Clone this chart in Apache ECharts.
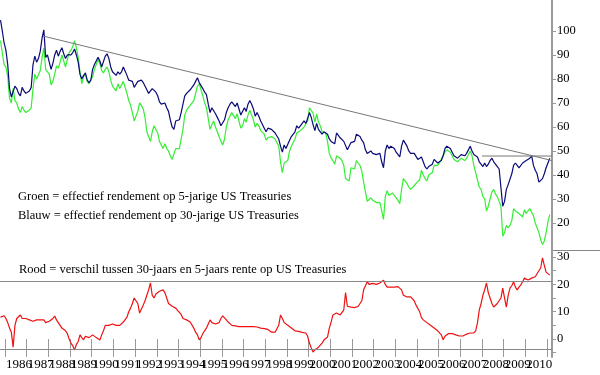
<!DOCTYPE html>
<html>
<head>
<meta charset="utf-8">
<script src="https://cdn.jsdelivr.net/npm/echarts@6.0.0/dist/echarts.min.js"></script>
<style>html,body{margin:0;padding:0;background:#fff;}#chart{width:600px;height:375px;}</style>
</head>
<body>
<div id="chart"></div>
<script>
// Monthly series, first point Oct 1985, last point Feb 2011 (values = yield x 10)
const startYear = 1985, startMonth = 10;
const blue30y = [
 104.5,100,95,
 92,86,76,72.5,73,77,76,74,73,76.5,75,74,
 74,75,76.5,86,89.5,87,88.5,91.5,97,100.5,89,90,
 87,84,86.5,90,92,89.5,91.5,93,90.5,88.5,90,90.5,
 90,91,92.5,90,87,82,80,81.5,82.5,79.5,78.5,79.5,
 84,86,86.5,89,87.5,85,85.5,89.5,90.5,88.5,85,83,
 83.5,81.5,83,82,83,85,84.5,81.5,79.5,80,79,76.5,
 77,79,79.8,79.5,78.5,78,75.5,74,74,76,76.5,74.5,
 73,70.5,69.5,69,70,68,66.5,63,60,59,62.5,62.5,
 63,66,69.5,73,74,74.5,75.5,75,77.5,79,80.5,78.5,
 78.5,76,74.5,73.5,69.5,66,68,68.5,65.5,64,62.5,60.5,
 60.5,63,66,68,69.5,70.5,70,68.5,70,67.5,65,65.5,
 68,66.5,69.5,71,69.5,67.5,64.5,66,64.5,62.5,61,59.5,
 58,59.5,59.5,59,59.5,57.5,57,55,52,49.5,52.5,51,
 51.5,54.5,56,55.5,58,60.5,59.5,60.5,60.5,62.5,61.5,63.5,
 66,64,61,58.5,61.5,59,58,57,58,58,57,55,
 54,53.5,53,57.5,57,55.5,55,54,54.5,50.5,50,53.5,
 54,54,57,56.5,56,54.5,53.5,50.5,49,49.5,50,49,
 49.5,48.5,48.5,49,45.5,43,50,52.5,51,52,51.5,51,
 49.5,49,47.5,52,54.5,54,52,50,49,48.5,49,48.5,
 46.5,46,47.5,45.5,43.5,42.5,43.5,44,44.5,46.5,46.5,45,
 45.5,46,48,51,52,51.5,51,49.5,48,48.5,47,47,
 48.5,48,48,49,49.5,52,50,48.5,48,47.5,45.5,45.5,
 43.5,45,43.5,44.5,46,47,45.5,45,43.5,42.5,42,27,
 29,34,36,36.5,40.5,44,45,44,43,43.5,45,45.5,
 46,46.5,47,48,44,42,40.5,37,37.5,38.5,40.5,43,
 45,47
];
const green5y = [
 96,91,86,
 85,81,72,70,76,71,70,67.5,66,68.5,67,66,
 66,67,68,76,82,80,80,83.5,89,93,84,84.5,
 82,77.5,79,82,85.5,84.5,87,90,87.5,85,88,91,
 92,93.5,96,93,89,83,78,81,82,79,78,77.5,
 81,84,86,88,86.5,83.5,82.5,84,85,83,79.5,77,
 76,75,78,76,76.5,79,78.5,74,71,69,66,62.5,
 63,66.5,70,69,67.5,64,58,56,54,58,60.5,61,
 57.5,54,52.5,51,53,51,50,48,46.5,47,51,51.5,
 51,55,59,65,67,66.5,69,68.5,71,74,77,78,
 77.5,73,70,68,63.5,59,61,62.5,60,58,56,54,
 52.5,55,60,63,64.5,66,65.5,63.5,65.5,62.5,59.5,60.5,
 63.5,62,65,67,65,63,60,61.5,60.5,58.5,58,57,
 54.5,55.5,56,56,56,55,54.5,52,45.5,41,45,45,
 46,50,52,52,55,57.5,57,58.5,58.5,60,60,62.5,
 68,68,65.8,62,65.5,62,60.5,58,58,57.5,54,49,
 47,46,44.5,48,48.5,47,46,44,38.5,39,37.5,43,
 43,42.5,46,45,44,41.5,37,33,29,28.5,30.5,29.5,
 29.5,28.5,28,28.5,25,21.5,31,33.5,31.5,32,32.5,32,
 30.5,29.5,28,34,38.5,39,36.5,35,34,34,35.5,36.5,
 37,38,42,40,38.5,37.5,40,40.5,41,44,44.5,44,
 44,46.5,47,49.5,50.5,50,49.5,48,46.5,47,45.5,45.5,
 47,46.5,46,47,47.5,50,48,44,41,40.5,35,34,
 31,30,25,27,30,33,34,32,31,29,27,14.5,
 16,19,18,19,21,26,25,25.5,24,23.5,22.5,25.5,
 24,24.5,26,24.5,23,20,18,16,13,11,12.5,16,
 20.5,23.5
];
const redSpread = [
 8,8.5,8.5,
 7.5,6,4,2.5,-3,5,7.5,8,8.8,7.5,8,7.5,
 7.5,7,7,6.5,6,7,7.5,7,7.5,7,6,6.5,
 6.5,7,7.5,8.4,7,6,5,4,3.5,3,2,0,
 -1.5,-2.5,-4,-2,-1,1.5,0.5,-0.3,1,1,0.5,0.7,
 1.5,1,0.5,0.5,-0.4,1.5,3,5,5.2,5,5,5.5,
 5.5,5,5.2,5,5.5,6.2,6.5,8,10,11.3,13,15,
 14,13,9.5,11,12.4,14,16,18,20.5,16,15,16.5,
 17,17.5,18,18,17,15,13,12.4,12,11.5,11.3,10.5,
 10,9,7.5,7,7,6.5,6.2,5.5,4,2.5,1.5,-0.3,
 0.5,2,2.6,4,5.5,7,6,6,5.5,5,6,7.5,
 8.5,8.8,7,6.2,5.5,5,5,4.8,4.5,4.5,5,4.5,
 4.5,4.5,4.5,4.5,4.4,4.5,4.3,4.4,4.2,4,4,3.8,
 3.5,3.5,3,2.5,1.8,2.5,3,5,8.8,7.5,6,5.5,
 5,4.5,4,3.3,3,3,2.8,2.6,2.4,2.3,2.2,1,
 -1.5,-3.3,-4.8,-4,-3.3,-3,-2.8,-1.5,-0.4,0,0.7,4,
 6.2,8.8,9,9.5,9,8.8,9.5,10.6,17,12,11.5,11.7,
 12.4,11.5,11.2,12,12.4,14,18,19.5,21,20,19.7,20.4,
 20.4,20,19.8,20.5,21,21.5,20,19,18.8,19,18.6,19,
 19,19.2,19.4,18,16,15.5,15.4,15.5,15.4,15,14,12.4,
 12.4,10,7.8,7,6.5,6,5.5,5,4.4,4,3.5,3,
 2.5,1.5,-0.3,1,1.5,2,2.2,2,1.8,1.5,1.2,1.1,
 1.2,1.1,1.5,1.8,2,2.2,2,2.2,3,5.9,10.6,13,
 16,18,20.5,17,15,13,11.7,12,13,13.5,15,18.6,
 15,11.7,16,18.6,19.5,21,19,18,19,19.8,21,22.3,
 21.6,21.6,22,22.3,22.5,22.8,23.4,25,26,29.7,27,24.5,
 25,23.4
];
const trendLine = [[1987.75, 97.9], [2011.23, 46.0]];
const flatLine = [[2008.0, 47.9], [2011.23, 47.9]];
const spreadRefLines = [21.2, -3.7];
const yearTicks = [];
for (let y = 1986; y <= 2011; y++) yearTicks.push(y);
const yearLabelsEven = yearTicks.filter(y => y <= 2010 && y % 2 === 0);
const yearLabelsOdd = yearTicks.filter(y => y <= 2010 && y % 2 === 1);
const topLabels = [20, 30, 40, 50, 60, 70, 80, 90, 100];
const bottomLabels = [0, 10, 20, 30];
const bottomTicks = [-5, 0, 5, 10, 15, 20, 25, 30];

// decimal-year position for each monthly sample
const xs = blue30y.map((_, i) => {
  const m = startMonth - 1 + i;
  return startYear + Math.floor(m / 12) + ((m % 12) + 0.5) / 12;
});
const pair = arr => arr.map((v, i) => [xs[i], v]);

const FONT = 'Liberation Serif';
const AX = '#9a9a9a';
const xMin = 1985.769, xMax = 2011.23;

const yearAxis = (labels, withTicks) => ({
  gridIndex: 1, type: 'value', min: xMin, max: xMax, position: 'bottom', offset: 0,
  axisLine: {show: false}, splitLine: {show: false},
  axisTick: {show: withTicks, customValues: yearTicks, length: 18, lineStyle: {color: AX, width: 1}},
  axisLabel: {customValues: labels, align: 'left', margin: 1, padding: [0,0,0,1],
    showMinLabel: true, showMaxLabel: true, hideOverlap: false,
    fontFamily: FONT, fontSize: 13, color: '#000', formatter: v => String(v)}
});

const chart = echarts.init(document.getElementById('chart'));
chart.setOption({
  animation: false,
  backgroundColor: '#fff',
  grid: [
    {left: 0, top: 0, width: 552, height: 250},
    {left: 0, top: 250, width: 552, height: 107}
  ],
  xAxis: [
    {gridIndex: 0, type: 'value', min: xMin, max: xMax, show: false},
    yearAxis(yearLabelsEven, true),
    yearAxis(yearLabelsOdd, false)
  ],
  yAxis: [
    {gridIndex: 0, type: 'value', position: 'right', min: 8.75, max: 112.9,
     splitLine: {show: false},
     axisLine: {show: true, lineStyle: {color: AX, width: 2}},
     axisTick: {show: true, customValues: topLabels, length: 4, lineStyle: {color: AX}},
     axisLabel: {customValues: topLabels, margin: 5, fontFamily: FONT, fontSize: 12.5, color: '#000'}},
    {gridIndex: 1, type: 'value', position: 'right', min: -6.6, max: 32.6,
     splitLine: {show: false},
     axisLine: {show: true, lineStyle: {color: AX, width: 2}},
     axisTick: {show: true, customValues: bottomTicks, length: 4, lineStyle: {color: AX}},
     axisLabel: {customValues: bottomLabels, margin: 5, fontFamily: FONT, fontSize: 12.5, color: '#000'}}
  ],
  series: [
    {type: 'line', xAxisIndex: 0, yAxisIndex: 0, data: pair(green5y), showSymbol: false,
     lineStyle: {color: '#33ee33', width: 1.2}},
    {type: 'line', xAxisIndex: 0, yAxisIndex: 0, data: pair(blue30y), showSymbol: false,
     lineStyle: {color: '#0a0a78', width: 1.2}},
    {type: 'line', xAxisIndex: 0, yAxisIndex: 0, data: trendLine, showSymbol: false,
     lineStyle: {color: '#777', width: 1}},
    {type: 'line', xAxisIndex: 0, yAxisIndex: 0, data: flatLine, showSymbol: false,
     lineStyle: {color: '#777', width: 1}},
    {type: 'line', xAxisIndex: 1, yAxisIndex: 1, data: pair(redSpread), showSymbol: false,
     lineStyle: {color: '#ee1111', width: 1.2},
     markLine: {silent: true, symbol: 'none', label: {show: false},
       lineStyle: {color: '#888', type: 'solid', width: 1},
       data: spreadRefLines.map(v => ({yAxis: v}))}}
  ],
  graphic: [
    {type: 'line', shape: {x1: 552, y1: 250.5, x2: 600, y2: 250.5}, style: {stroke: '#888', lineWidth: 1}},
    {type: 'text', left: 18, top: 190, style: {text: 'Groen = effectief rendement op 5-jarige US Treasuries', font: '12.5px "Liberation Serif"', fill: '#000'}},
    {type: 'text', left: 18, top: 209, style: {text: 'Blauw = effectief rendement op 30-jarige US Treasuries', font: '12.5px "Liberation Serif"', fill: '#000'}},
    {type: 'text', left: 19, top: 263, style: {text: 'Rood = verschil tussen 30-jaars en 5-jaars rente op US Treasuries', font: '12.5px "Liberation Serif"', fill: '#000'}}
  ]
});
</script>
</body>
</html>
